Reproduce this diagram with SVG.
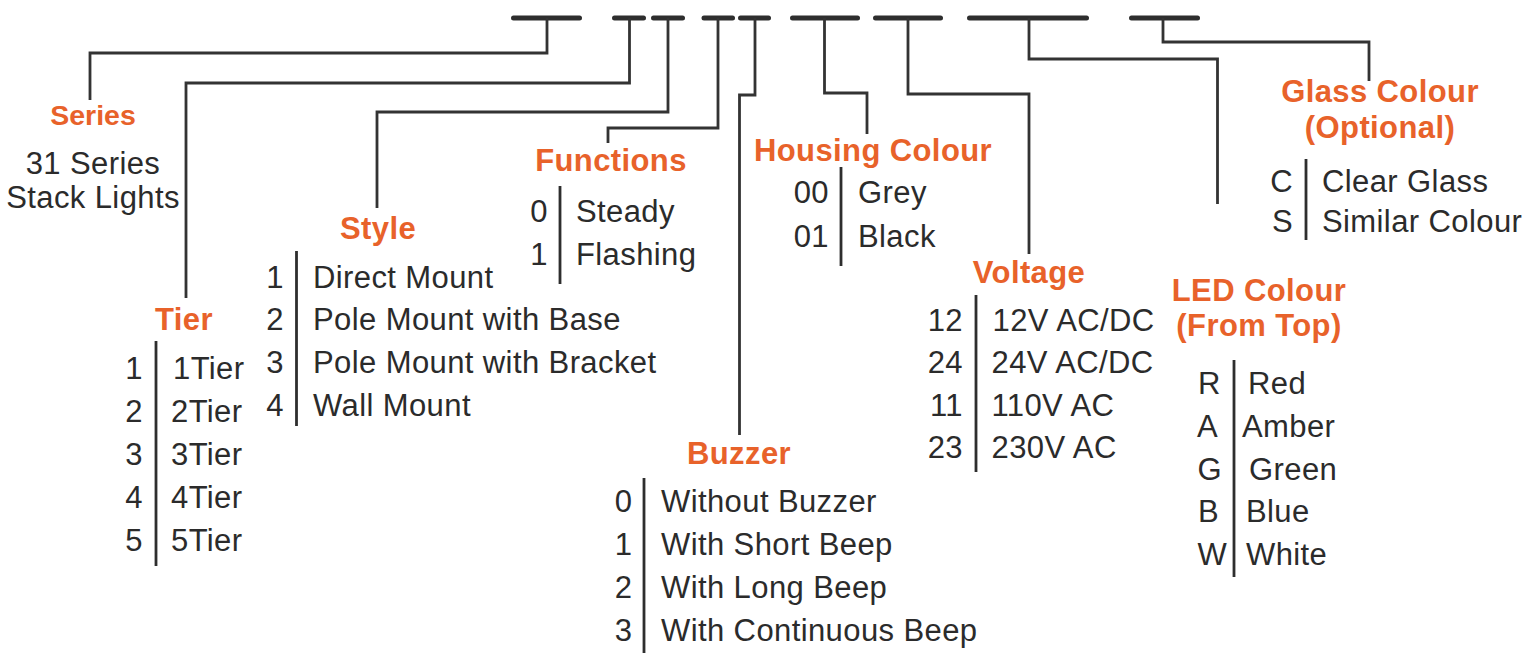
<svg xmlns="http://www.w3.org/2000/svg" width="1527" height="653" viewBox="0 0 1527 653">
<style>
.bar{stroke:#2e2e2e;stroke-width:5;stroke-linecap:round;fill:none}
.con{stroke:#333;stroke-width:2.8;fill:none}
.sep{stroke:#2e2e2e;stroke-width:2.8;fill:none}
text{font-family:"Liberation Sans",Arial,Helvetica,sans-serif;font-size:31px;letter-spacing:0.4px;fill:#2b2b2b}
.h{font-weight:bold;fill:#E8622A;text-anchor:middle}
.c{text-anchor:middle}
.n{text-anchor:end}
</style>
<rect width="1527" height="653" fill="#fff"/>
<g id="code-bars">
<line class="bar" x1="513.5" y1="18" x2="579.5" y2="18"/>
<line class="bar" x1="614.5" y1="18" x2="643.5" y2="18"/>
<line class="bar" x1="653.5" y1="18" x2="682.5" y2="18"/>
<line class="bar" x1="704" y1="18" x2="732.5" y2="18"/>
<line class="bar" x1="740.5" y1="18" x2="768.5" y2="18"/>
<line class="bar" x1="792.5" y1="18" x2="857.5" y2="18"/>
<line class="bar" x1="875.5" y1="18" x2="940.5" y2="18"/>
<line class="bar" x1="969.5" y1="18" x2="1086.5" y2="18"/>
<line class="bar" x1="1131.5" y1="18" x2="1197.5" y2="18"/>
</g>
<g id="connectors">
<path class="con" d="M547,18 V53 H90 V100"/>
<path class="con" d="M629.5,18 V83 H186 V298"/>
<path class="con" d="M668,18 V112 H377 V208"/>
<path class="con" d="M718,18 V128 H608 V143"/>
<path class="con" d="M755,18 V95 H739.5 V435"/>
<path class="con" d="M824.5,18 V93 H867 V134"/>
<path class="con" d="M908,18 V94 H1029 V254"/>
<path class="con" d="M1029,18 V59 H1217.5 V204"/>
<path class="con" d="M1163,18 V42 H1369 V81"/>
</g>
<g id="series">
<text class="h" x="93" y="125" style="font-size:28.5px;letter-spacing:0">Series</text>
<text class="c" x="93" y="174">31 Series</text>
<text class="c" x="93" y="208">Stack Lights</text>
</g>
<g id="tier">
<text class="h" x="184" y="330">Tier</text>
<line class="sep" x1="156" y1="341" x2="156" y2="566"/>
<text class="n" x="143" y="379">1</text><text x="173" y="379">1Tier</text>
<text class="n" x="143" y="422">2</text><text x="171" y="422">2Tier</text>
<text class="n" x="143" y="465">3</text><text x="171" y="465">3Tier</text>
<text class="n" x="143" y="507.5">4</text><text x="171" y="507.5">4Tier</text>
<text class="n" x="143" y="550.5">5</text><text x="171" y="550.5">5Tier</text>
</g>
<g id="style">
<text class="h" x="378" y="239">Style</text>
<line class="sep" x1="296.5" y1="251" x2="296.5" y2="426"/>
<text class="n" x="284" y="287.5">1</text><text x="313" y="287.5">Direct Mount</text>
<text class="n" x="284" y="330">2</text><text x="313" y="330">Pole Mount with Base</text>
<text class="n" x="284" y="373">3</text><text x="313" y="373">Pole Mount with Bracket</text>
<text class="n" x="284" y="415.5">4</text><text x="313" y="415.5">Wall Mount</text>
</g>
<g id="functions">
<text class="h" x="611" y="171">Functions</text>
<line class="sep" x1="560" y1="186" x2="560" y2="284"/>
<text class="n" x="548" y="222">0</text><text x="576" y="222">Steady</text>
<text class="n" x="548" y="265">1</text><text x="576" y="265">Flashing</text>
</g>
<g id="housing-colour">
<text class="h" x="873" y="161">Housing Colour</text>
<line class="sep" x1="841" y1="167" x2="841" y2="266"/>
<text class="n" x="829" y="203">00</text><text x="858" y="203">Grey</text>
<text class="n" x="829" y="246.5">01</text><text x="858" y="246.5">Black</text>
</g>
<g id="buzzer">
<text class="h" x="739" y="464">Buzzer</text>
<line class="sep" x1="644" y1="478" x2="644" y2="653"/>
<text class="n" x="632.5" y="512">0</text><text x="661" y="512">Without Buzzer</text>
<text class="n" x="632.5" y="555">1</text><text x="661" y="555">With Short Beep</text>
<text class="n" x="632.5" y="598">2</text><text x="661" y="598">With Long Beep</text>
<text class="n" x="632.5" y="641">3</text><text x="661" y="641">With Continuous Beep</text>
</g>
<g id="voltage">
<text class="h" x="1029" y="283">Voltage</text>
<line class="sep" x1="976" y1="295" x2="976" y2="472"/>
<text class="n" x="963" y="331">12</text><text x="992.5" y="331">12V AC/DC</text>
<text class="n" x="963" y="373">24</text><text x="991.5" y="373">24V AC/DC</text>
<text class="n" x="963" y="416">11</text><text x="991.5" y="416">110V AC</text>
<text class="n" x="963" y="458">23</text><text x="991.5" y="458">230V AC</text>
</g>
<g id="led-colour">
<text class="h" x="1259" y="301">LED Colour</text>
<text class="h" x="1259" y="336">(From Top)</text>
<line class="sep" x1="1234" y1="360" x2="1234" y2="577"/>
<text x="1198" y="394">R</text><text x="1248" y="394">Red</text>
<text x="1197" y="437">A</text><text x="1242" y="437">Amber</text>
<text x="1197.5" y="479.5">G</text><text x="1249" y="479.5">Green</text>
<text x="1198" y="522">B</text><text x="1246" y="522">Blue</text>
<text x="1197.5" y="565">W</text><text x="1246" y="565">White</text>
</g>
<g id="glass-colour">
<text class="h" x="1380" y="102">Glass Colour</text>
<text class="h" x="1380" y="138">(Optional)</text>
<line class="sep" x1="1306" y1="159" x2="1306" y2="240"/>
<text class="n" x="1293" y="192">C</text><text x="1322" y="192">Clear Glass</text>
<text class="n" x="1293" y="232">S</text><text x="1322" y="232">Similar Colour</text>
</g>
</svg>
